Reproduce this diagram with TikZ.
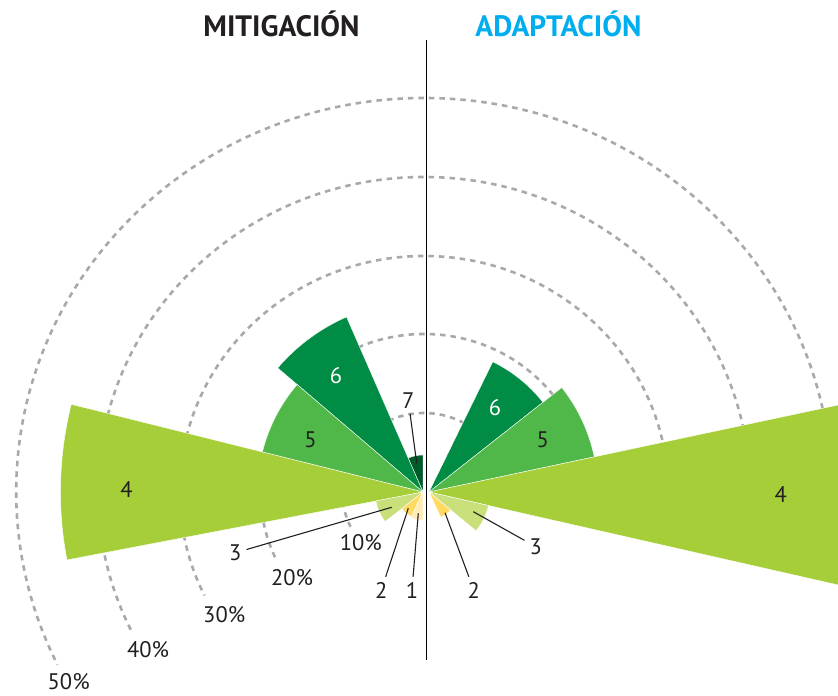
\documentclass[tikz,border=0pt]{standalone}
\usepackage{fontspec}
\setmainfont{PT Sans}
\usetikzlibrary{calc}
\definecolor{txt}{HTML}{231F20}
\definecolor{adapt}{HTML}{00AEEF}
\definecolor{cwa}{HTML}{FFEBB5}
\definecolor{cwb}{HTML}{FFDB63}
\definecolor{cwc}{HTML}{C9DF7A}
\definecolor{cwd}{HTML}{A6CE39}
\definecolor{cwe}{HTML}{50B848}
\definecolor{cwf}{HTML}{008C44}
\definecolor{cwg}{HTML}{005B2A}
\definecolor{gridc}{HTML}{A7A9AC}
\newcommand\sector[5]{\fill[#1, draw=white, line width=0.4pt] (#2) -- ++(#3:#5) arc[start angle=#3, end angle=#4, radius=#5] -- cycle;}
\begin{document}
\begin{tikzpicture}[x=1pt,y=1pt,
  gridline/.style={draw=gridc, line width=2.6pt, dash pattern=on 5.5pt off 5pt},
  wedgelbl/.style={font=\fontsize{22.5}{22.5}\selectfont, text=txt, inner sep=0pt},
  pctlbl/.style={font=\fontsize{22.5}{22.5}\selectfont, text=txt, inner sep=0pt},
  leadlbl/.style={font=\fontsize{22.5}{22.5}\selectfont, text=txt, inner sep=5pt},
  leader/.style={draw=txt, line width=1.1pt},
  titlelbl/.style={font=\fontsize{29.5}{29.5}\selectfont\bfseries, anchor=base, inner sep=0pt},
]
\useasboundingbox (-426,-204) rectangle (412,492);
\fill[white] (-426,-204) rectangle (412,492);
\coordinate (C) at (-2,0);
\coordinate (L) at (-3,0);
\coordinate (R) at (3,0);
% grid arcs
\foreach \rr in {79,158,236,315,394}{
  \draw[gridline] ($(C)+(1.035*\rr,0)$) arc[start angle=0,end angle=206,x radius=1.035*\rr,y radius=\rr];
}
% left wedges (mitigacion)
\sector{cwg}{L}{90}{113.6}{37}
\sector{cwf}{L}{113.6}{139.5}{191}
\sector{cwe}{L}{139.5}{166}{165.5}
\sector{cwd}{L}{166}{190.8}{362.5}
\sector{cwc}{L}{190.8}{218}{48}
\sector{cwb}{L}{218}{245}{27}
\sector{cwa}{L}{245}{270}{28}
% right wedges (adaptacion)
\sector{cwf}{R}{38.2}{63.9}{145}
\sector{cwe}{R}{12}{38.2}{169}
\begin{scope}
\clip (-426,-204) rectangle (412,492);
\sector{cwd}{R}{-12.8}{12}{470}
\end{scope}
\sector{cwc}{R}{-39.5}{-12.8}{61}
\sector{cwb}{R}{-65}{-39.5}{28}
% divider
\coordinate (vtop) at (0.3,452);
\coordinate (vbot) at (0.3,-168);
\draw[black, line width=1.5pt] (vtop) -- (vbot);
% titles
\node[titlelbl, text=txt] (tmit) at (-144.5,455) {MITIGACIÓN};
\node[titlelbl, text=adapt] (tadap) at (132.5,455) {ADAPTACIÓN};
% wedge labels
\node[wedgelbl] (l4) at (-299.5,2.5) {4};
\node[wedgelbl] (l5) at (-115.5,52.5) {5};
\node[wedgelbl, text=white] (l6) at (-90,116.5) {6};
\node[wedgelbl, text=white] (r6) at (69,84.5) {6};
\node[wedgelbl] (r5) at (116.8,51.8) {5};
\node[wedgelbl] (r4) at (354.8,-3) {4};
% leader labels
\node[leadlbl] (l7) at (-17.7,91.5) {7};
\coordinate (l7t) at (-9.3,28.7);
\draw[leader] (l7) -- (l7t);
\node[leadlbl] (l3) at (-190.7,-60.8) {3};
\coordinate (l3t) at (-34.3,-15.3);
\draw[leader] (l3) -- (l3t);
\node[leadlbl] (l2) at (-44.7,-98) {2};
\coordinate (l2t) at (-17.7,-16.3);
\draw[leader] (l2) -- (l2t);
\node[leadlbl] (l1) at (-14,-98) {1};
\coordinate (l1t) at (-7.7,-21.3);
\draw[leader] (l1) -- (l1t);
\node[leadlbl] (r2) at (47.8,-98) {2};
\coordinate (r2t) at (19,-20.7);
\draw[leader] (r2) -- (r2t);
\node[leadlbl] (r3) at (109.8,-54.7) {3};
\coordinate (r3t) at (47.3,-19.7);
\draw[leader] (r3) -- (r3t);
% percentage labels
\node[pctlbl] (p10) at (-65.2,-50.8) {10\%};
\node[pctlbl] (p20) at (-134,-86) {20\%};
\node[pctlbl] (p30) at (-201.8,-122.7) {30\%};
\node[pctlbl] (p40) at (-278,-157.5) {40\%};
\node[pctlbl] (p50) at (-357.3,-189.5) {50\%};
\end{tikzpicture}
\end{document}
